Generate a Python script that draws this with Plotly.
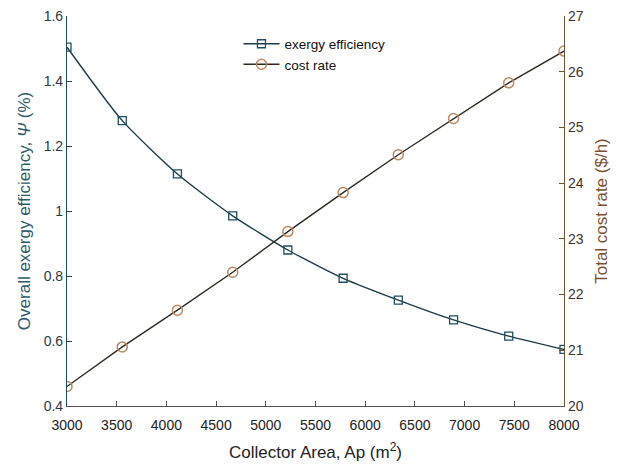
import plotly.graph_objects as go

# Collector area samples (m^2)
area = [3000, 3556, 4111, 4667, 5222, 5778, 6333, 6889, 7444, 8000]
# Overall exergy efficiency (%)
exergy_eff = [1.504, 1.278, 1.114, 0.985, 0.880, 0.793, 0.726, 0.665, 0.615, 0.574]
# Total cost rate ($/h)
cost_rate = [20.35, 21.06, 21.72, 22.40, 23.13, 23.83, 24.51, 25.16, 25.80, 26.37]

x_ticks = list(range(3000, 8001, 500))
left_ticks = [0.4, 0.6, 0.8, 1.0, 1.2, 1.4, 1.6]
left_labels = ["0.4", "0.6", "0.8", "1", "1.2", "1.4", "1.6"]
right_ticks = list(range(20, 28))

LEFT_COLOR = "#1f4a58"
RIGHT_COLOR = "#6a5234"
FONT = "Liberation Sans, Arial, sans-serif"

fig = go.Figure()

fig.add_trace(go.Scatter(
    x=area, y=exergy_eff, name="exergy efficiency",
    mode="lines+markers",
    line=dict(color="#1d3c46", width=1.4, shape="spline", smoothing=0.6),
    marker=dict(symbol="square-open", size=8, color="#1f4f60", line=dict(width=1.3)),
    yaxis="y",
))

fig.add_trace(go.Scatter(
    x=area, y=cost_rate, name="cost rate",
    mode="lines+markers",
    line=dict(color="#2e2a22", width=1.4),
    marker=dict(symbol="circle-open", size=10, color="#b98a64", line=dict(width=1.5)),
    yaxis="y2",
))

fig.update_layout(
    width=623, height=468,
    margin=dict(l=67, r=59, t=16, b=62, autoexpand=False),
    paper_bgcolor="white", plot_bgcolor="white",
    font=dict(family=FONT, size=14, color="#222222"),
    showlegend=True,
    legend=dict(
        x=0.345, y=0.968, xanchor="left", yanchor="top",
        bgcolor="rgba(255,255,255,0)", borderwidth=0,
        font=dict(size=13.5, color="#111111"),
        tracegroupgap=0, itemwidth=36,
    ),
    xaxis=dict(
        range=[3000, 8000], tickvals=x_ticks,
        ticks="inside", ticklen=5, tickcolor="#555555",
        showline=True, linecolor="#555555", linewidth=1.2,
        showgrid=False, zeroline=False, automargin=False,
        ticklabelstandoff=6,
        tickfont=dict(size=14, color="#222222"),
        title=dict(text="Collector Area, Ap (m<sup>2</sup>)",
                   font=dict(size=17, color="#222222"), standoff=14),
    ),
    yaxis=dict(
        range=[0.4, 1.6], tickvals=left_ticks, ticktext=left_labels,
        ticks="inside", ticklen=5, tickcolor=LEFT_COLOR,
        showline=True, linecolor=LEFT_COLOR, linewidth=1.2,
        showgrid=False, zeroline=False, automargin=False,
        tickfont=dict(size=14, color="#2a3a40"),
        title=dict(text="Overall exergy efficiency, <i>Ψ</i> (%)",
                   font=dict(size=17, color="#2f5a68"), standoff=8),
    ),
    yaxis2=dict(
        range=[20, 27], tickvals=right_ticks,
        overlaying="y", side="right",
        ticks="inside", ticklen=5, tickcolor=RIGHT_COLOR,
        showline=True, linecolor=RIGHT_COLOR, linewidth=1.2,
        showgrid=False, zeroline=False, automargin=False,
        tickfont=dict(size=14, color="#3e3426"),
        title=dict(text="Total cost rate ($/h)",
                   font=dict(size=17, color="#7a5230"), standoff=12),
    ),
)

fig.write_html("out.html")
